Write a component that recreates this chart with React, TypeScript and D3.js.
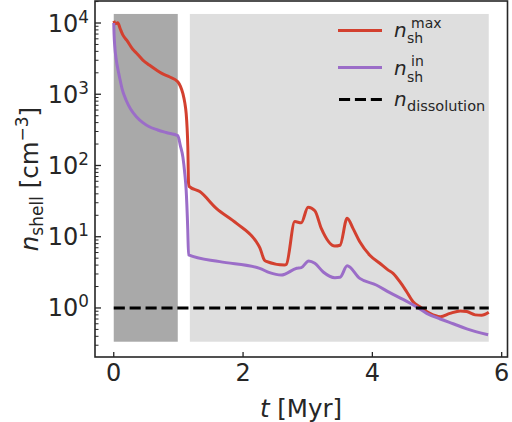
import React from "react";
import * as d3 from "d3";

const tMax = [0, 0.026, 0.062, 0.1, 0.14, 0.2, 0.294, 0.35, 0.45, 0.55, 0.66, 0.75, 0.86, 0.99, 1.03, 1.07, 1.1, 1.12, 1.135, 1.146, 1.157, 1.165, 1.33, 1.586, 1.9, 2.205, 2.26, 2.33, 2.36, 2.64, 2.67, 2.8, 2.9, 3.005, 3.11, 3.21, 3.42, 3.5, 3.61, 3.7, 3.805, 3.96, 4.115, 4.245, 4.32, 4.425, 4.53, 4.63, 4.735, 4.89, 5.05, 5.2, 5.36, 5.46, 5.59, 5.69, 5.8];
const nMax = [10700, 9800, 10100, 8300, 6800, 5750, 4270, 3800, 3020, 2570, 2190, 1950, 1760, 1500, 1300, 1020, 750, 540, 330, 182, 56, 51, 43, 25, 15.4, 8.5, 7.0, 4.7, 4.5, 4.0, 4.1, 16.3, 15.7, 25.9, 23.2, 13.1, 7.4, 7.6, 18.2, 13.1, 8.5, 5.5, 4.24, 3.4, 3.07, 2.34, 1.69, 1.22, 1.04, 0.84, 0.755, 0.84, 0.91, 0.89, 0.8, 0.79, 0.87];

const tIn = [0, 0.005, 0.015, 0.04, 0.06, 0.088, 0.13, 0.19, 0.26, 0.35, 0.45, 0.55, 0.68, 0.81, 0.99, 1.03, 1.07, 1.1, 1.12, 1.145, 1.157, 1.64, 2.257, 2.41, 2.59, 2.83, 2.9, 3.015, 3.11, 3.24, 3.42, 3.5, 3.61, 3.805, 4.06, 4.27, 4.475, 4.68, 4.84, 5.05, 5.25, 5.46, 5.79];
const nIn = [10000, 7000, 4800, 3000, 2350, 1760, 1180, 830, 620, 485, 400, 350, 315, 290, 262, 190, 130, 75, 45, 12.5, 5.55, 4.47, 3.6, 3.13, 2.9, 3.6, 3.68, 4.57, 4.24, 3.2, 2.66, 2.7, 3.9, 2.6, 2.1, 1.64, 1.32, 1.04, 0.84, 0.7, 0.6, 0.51, 0.42];

const nDissolution = 1;
const darkSpan = [0, 0.99];
const lightSpan = [1.177, 5.8];
const spanY = [0.336, 13400];
const xTicks = [0, 2, 4, 6];
const yTickExps = [0, 1, 2, 3, 4];

const W = 512, H = 422;
const L = 95, R = 507.5, T = 1, B = 357;
const TXT = "#262626";
const FONT = "DejaVu Sans";

export default function App() {
  const x = d3.scaleLinear().domain([-0.29, 6.09]).range([L, R]);
  const y = d3.scaleLog().domain([0.205, 20370]).range([B, T]);
  const line = d3.line<[number, number]>().x(d => x(d[0])).y(d => y(d[1])).curve(d3.curveMonotoneX);
  const redPts = tMax.map((t, i) => [t, nMax[i]] as [number, number]);
  const purPts = tIn.map((t, i) => [t, nIn[i]] as [number, number]);

  const minor: number[] = [];
  for (let e = -1; e <= 4; e++) {
    for (let m = 2; m <= 9; m++) {
      const v = m * Math.pow(10, e);
      if (v >= 0.205 && v <= 20370) minor.push(v);
    }
  }

  const red = "#d3402f";
  const purple = "#9b6dc8";

  return (
    <svg width={W} height={H} style={{ position: "absolute", left: 0, top: 0, background: "#fff" }} fontFamily={FONT}>
      <rect x={x(darkSpan[0])} width={x(darkSpan[1]) - x(darkSpan[0])} y={y(spanY[1])} height={y(spanY[0]) - y(spanY[1])} fill="#a9a9a9" />
      <rect x={x(lightSpan[0])} width={x(lightSpan[1]) - x(lightSpan[0])} y={y(spanY[1])} height={y(spanY[0]) - y(spanY[1])} fill="#dedede" />
      <path d={line(redPts) || ""} fill="none" stroke={red} strokeWidth={3} strokeLinejoin="round" />
      <path d={line(purPts) || ""} fill="none" stroke={purple} strokeWidth={3} strokeLinejoin="round" />
      <line x1={x(0)} x2={x(5.8)} y1={y(nDissolution)} y2={y(nDissolution)} stroke="#000" strokeWidth={3} strokeDasharray="11.1,4.8" />

      {/* frame */}
      <rect x={L} y={T} width={R - L} height={B - T} fill="none" stroke={TXT} strokeWidth={1.6} />

      {/* x ticks */}
      {xTicks.map(t => (
        <g key={"xt" + t}>
          <line x1={x(t)} x2={x(t)} y1={B} y2={B - 5} stroke={TXT} strokeWidth={1.3} />
          <text x={x(t)} y={381} textAnchor="middle" fontSize={24} fill={TXT}>{t}</text>
        </g>
      ))}
      {/* y ticks */}
      {yTickExps.map(e => (
        <g key={"yt" + e}>
          <line x1={L} x2={L + 6} y1={y(Math.pow(10, e))} y2={y(Math.pow(10, e))} stroke={TXT} strokeWidth={1.3} />
          <text x={89} y={y(Math.pow(10, e)) + 8.5} textAnchor="end" fontSize={24} fill={TXT}>
            <tspan>10</tspan>
            <tspan fontSize={16.8} dy={-9}>{e}</tspan>
          </text>
        </g>
      ))}
      {minor.map(v => (
        <line key={"m" + v} x1={L} x2={L + 3.5} y1={y(v)} y2={y(v)} stroke={TXT} strokeWidth={1} />
      ))}

      {/* axis labels */}
      <text x={301} y={417} textAnchor="middle" fontSize={24.5} fill={TXT}>
        <tspan fontStyle="italic">t</tspan>
        <tspan> [Myr]</tspan>
      </text>
      <text transform={`translate(38,${(T + B) / 2}) rotate(-90)`} textAnchor="middle" fontSize={24.5} fill={TXT}>
        <tspan fontStyle="italic">n</tspan>
        <tspan fontSize={17} dy={5}>shell</tspan>
        <tspan dy={-5}> [cm</tspan>
        <tspan fontSize={17} dy={-10}>−3</tspan>
        <tspan dy={10}>]</tspan>
      </text>

      {/* legend */}
      <line x1={338} x2={382} y1={30.5} y2={30.5} stroke={red} strokeWidth={3} />
      <text x={394} y={36.7} fontSize={20} fill={TXT} fontStyle="italic">n</text>
      <text x={411} y={28.3} fontSize={14} fill={TXT}>max</text>
      <text x={407} y={43.3} fontSize={14} fill={TXT}>sh</text>

      <line x1={338} x2={382} y1={67.5} y2={67.5} stroke={purple} strokeWidth={3} />
      <text x={394} y={75} fontSize={20} fill={TXT} fontStyle="italic">n</text>
      <text x={411} y={66.3} fontSize={14} fill={TXT}>in</text>
      <text x={407} y={81.5} fontSize={14} fill={TXT}>sh</text>

      <line x1={339} x2={382} y1={99.5} y2={99.5} stroke="#000" strokeWidth={3} strokeDasharray="11.1,4.8" />
      <text x={394} y={106} fontSize={20} fill={TXT} fontStyle="italic">n</text>
      <text x={407} y={110.5} fontSize={14.5} fill={TXT}>dissolution</text>
    </svg>
  );
}
